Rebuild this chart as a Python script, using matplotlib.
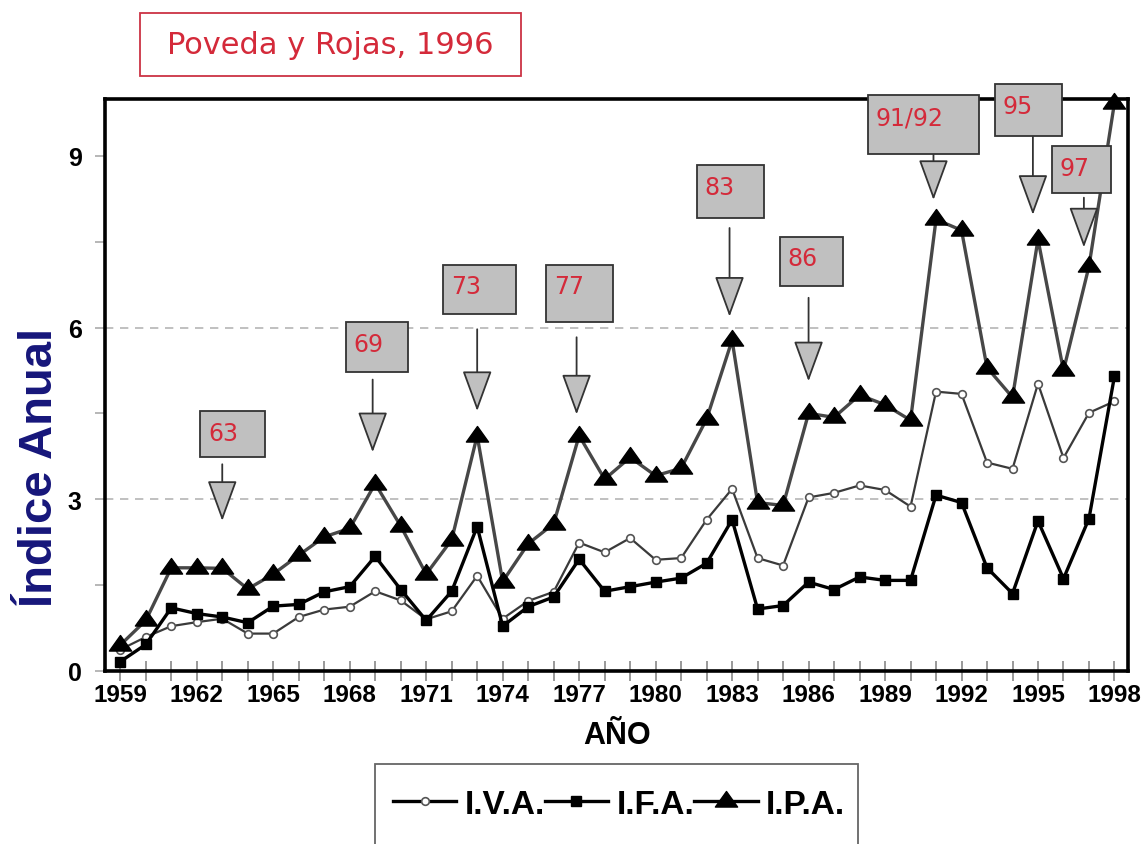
import matplotlib
matplotlib.use("Agg")
import matplotlib.pyplot as plt
from matplotlib.patches import Rectangle
from matplotlib.path import Path

# indices anuales 1959-1998
years = list(range(1959, 1999))
iva = [0.37, 0.59, 0.78, 0.85, 0.91, 0.65, 0.65, 0.94, 1.07, 1.12,
       1.39, 1.23, 0.90, 1.04, 1.66, 0.91, 1.22, 1.38, 2.24, 2.07,
       2.32, 1.94, 1.97, 2.64, 3.18, 1.97, 1.84, 3.03, 3.11, 3.24,
       3.16, 2.87, 4.88, 4.84, 3.64, 3.53, 5.02, 3.72, 4.51, 4.71]
ifa = [0.16, 0.46, 1.10, 1.00, 0.94, 0.84, 1.13, 1.16, 1.38, 1.47,
       2.00, 1.42, 0.88, 1.39, 2.52, 0.78, 1.12, 1.29, 1.95, 1.39,
       1.47, 1.55, 1.62, 1.88, 2.64, 1.08, 1.14, 1.55, 1.42, 1.64,
       1.58, 1.58, 3.07, 2.94, 1.80, 1.35, 2.62, 1.61, 2.66, 5.15]
ipa = [0.45, 0.88, 1.80, 1.80, 1.79, 1.43, 1.69, 2.02, 2.34, 2.49,
       3.27, 2.53, 1.69, 2.29, 4.11, 1.56, 2.22, 2.57, 4.11, 3.35,
       3.73, 3.41, 3.54, 4.40, 5.78, 2.94, 2.89, 4.50, 4.43, 4.82,
       4.65, 4.38, 7.89, 7.70, 5.30, 4.78, 7.54, 5.25, 7.07, 9.93]

year_ticks = list(range(1959, 1999, 3))
y_ticks = [0, 3, 6, 9]

# llamadas: etiqueta, año señalado, caja (izq, der, arriba, abajo), flecha (inicio, punta)
callouts = [
    ("63",    1963.0, (1962.14, 1964.69, 4.54, 3.73), (3.61, 2.62)),
    ("69",    1968.9, (1967.86, 1970.29, 6.09, 5.23), (5.09, 3.82)),
    ("73",    1973.0, (1971.67, 1974.53, 7.10, 6.23), (5.97, 4.54)),
    ("77",    1976.9, (1975.71, 1978.33, 7.10, 6.10), (5.83, 4.48)),
    ("83",    1982.9, (1981.63, 1984.25, 8.84, 7.92), (7.74, 6.19)),
    ("86",    1986.0, (1984.88, 1987.35, 7.59, 6.72), (6.52, 5.06)),
    ("91/92", 1990.9, (1988.33, 1992.69, 10.06, 9.04), (9.04, 8.23)),
    ("95",    1994.8, (1993.31, 1995.94, 10.26, 9.35), (9.35, 7.97)),
    ("97",    1996.8, (1995.55, 1997.86, 9.17, 8.36), (8.27, 7.40)),
]

fig = plt.figure(figsize=(11.44, 8.45), dpi=100)
ax = fig.add_axes([0.092, 0.205, 0.894, 0.677])

tri = Path([(-1, -0.5), (1, -0.5), (0, 0.9), (-1, -0.5)], closed=True)

ax.plot(years, iva, color="#3a3a3a", lw=1.6, marker="o", ms=5.5,
        mfc="white", mec="#555555", mew=1.2, label="I.V.A.", zorder=3)
ax.plot(years, ifa, color="black", lw=2.4, marker="s", ms=7,
        mfc="black", mec="black", label="I.F.A.", zorder=4)
ax.plot(years, ipa, color="#474747", lw=2.4, marker=tri, ms=16,
        mfc="black", mec="black", label="I.P.A.", zorder=5, clip_on=False)

for g in (3, 6):
    ax.axhline(g, color="#b5b5b5", lw=1.2, ls=(0, (5, 4)), zorder=1)

ax.set_xlim(1958.41, 1998.53)
ax.set_ylim(0, 10)
ax.set_xticks(years, minor=True)
ax.set_xticks(year_ticks)
ax.set_xticklabels([str(y) for y in year_ticks], fontsize=17.5,
                   fontweight="bold", family="Liberation Sans")
ax.set_yticks(y_ticks)
ax.set_yticks([1.5, 4.5, 7.5], minor=True)
ax.set_yticklabels([str(v) for v in y_ticks], fontsize=18,
                   fontweight="bold", family="Liberation Sans")
ax.tick_params(axis="x", which="both", direction="inout", length=14,
               width=1.2, color="#888888", pad=2)
ax.tick_params(axis="y", which="both", direction="out", length=7,
               width=1.2, color="#aaaaaa", pad=10)

for s in ax.spines.values():
    s.set_linewidth(2.6)
    s.set_color("black")

ax.set_xlabel("AÑO", fontsize=22, fontweight="bold",
              family="Liberation Sans", labelpad=10)
ax.set_ylabel("Índice Anual", fontsize=34, fontweight="bold",
              family="Liberation Sans", color="#16167a")
ax.yaxis.set_label_coords(-0.042, 0.357)

# cajas grises con flecha hacia el año
for label, yr, (x0, x1, top, bot), (a0, a1) in callouts:
    ax.add_patch(Rectangle((x0, bot), x1 - x0, top - bot, facecolor="#c0c0c0",
                           edgecolor="#333333", lw=1.3, zorder=8, clip_on=False))
    ax.text(x0 + 0.3, top - 0.38, label, color="#d42a3a", fontsize=17,
            family="DejaVu Sans", va="center", ha="left", zorder=9,
            clip_on=False)
    ax.annotate("", xy=(yr, a1), xytext=(yr, a0), annotation_clip=False,
                arrowprops=dict(arrowstyle="-|>,head_length=2.6,head_width=0.95",
                                mutation_scale=10, fc="#c0c0c0", ec="#333333",
                                lw=1.3, shrinkA=0, shrinkB=0), zorder=7)

# titulo
fig.patches.append(Rectangle((0.1224, 0.9089), 0.333, 0.0746, transform=fig.transFigure,
                             facecolor="white", edgecolor="#cc3344", lw=1.3))
fig.text(0.1224 + 0.333 / 2, 0.9089 + 0.0746 / 2, "Poveda y Rojas, 1996",
         color="#d42a3a", fontsize=22, family="DejaVu Sans",
         ha="center", va="center")

# leyenda
fig.patches.append(Rectangle((0.328, -0.05), 0.422, 0.1447, transform=fig.transFigure,
                             facecolor="white", edgecolor="#666666", lw=1.3))
leg = fig.legend(loc="center", bbox_to_anchor=(0.541, 0.047), ncol=3,
                 frameon=False, handlelength=1.9, handletextpad=0.25,
                 columnspacing=0.0, prop=dict(family="Liberation Sans",
                                              weight="bold", size=24))
for h in leg.legend_handles:
    h.set_color("black")
    h.set_linewidth(2.4)

fig.savefig("out.png", dpi=100)
